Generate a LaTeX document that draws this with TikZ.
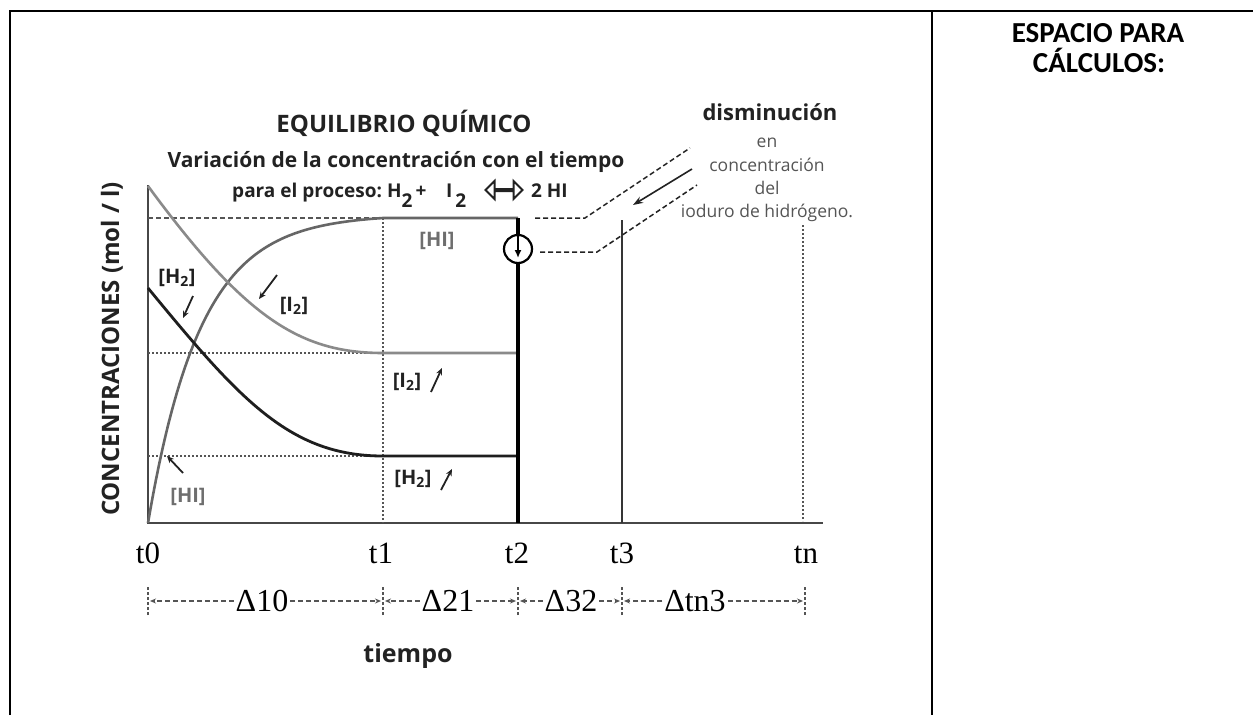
\documentclass[tikz,border=0pt]{standalone}
\usepackage{fontspec}
\setmainfont{Open Sans}
\newfontfamily\calibfont{Carlito}
\newfontfamily\timesfont{Liberation Serif}
\usetikzlibrary{arrows.meta,shapes.arrows}
\newcommand\myfs[1]{\fontsize{#1pt}{#1pt}\selectfont}
\definecolor{axgray}{HTML}{474747}
\definecolor{higray}{HTML}{666666}
\definecolor{itwogray}{HTML}{8A8A8A}
\definecolor{htwoblack}{HTML}{1E1E1E}
\definecolor{guidegray}{HTML}{555555}
\definecolor{txtdark}{HTML}{222222}
\definecolor{txtgray}{HTML}{555555}
\definecolor{lblgray}{HTML}{6E6E6E}
\tikzset{
  frame/.style={line width=2.2pt, draw=black},
  axisline/.style={line width=2.2pt, draw=axgray},
  guidedash/.style={line width=1.4pt, draw=guidegray, dash pattern=on 5pt off 3pt},
  guidedot/.style={line width=1.6pt, draw=guidegray, dash pattern=on 2pt off 2pt},
  hiline/.style={line width=2.6pt, draw=higray},
  itwoline/.style={line width=2.6pt, draw=itwogray},
  htwoline/.style={line width=2.8pt, draw=htwoblack},
  annot/.style={line width=1.5pt, draw=txtdark, dash pattern=on 5pt off 3pt},
  ptr/.style={line width=1.8pt, draw=txtdark, -{Stealth[length=7pt,width=6pt]}},
  title/.style={font=\bfseries\myfs{24}, text=txtdark},
  subtitle/.style={font=\bfseries\myfs{21}, text=txtdark},
  proc/.style={font=\bfseries\myfs{19}, text=txtdark},
  lbl/.style={font=\bfseries\myfs{20}},
  smalltxt/.style={font=\myfs{17.5}, text=txtgray},
  tlabel/.style={font=\timesfont\myfs{31}, text=black},
  dlabel/.style={font=\timesfont\myfs{32}, text=black, inner sep=2pt},
  tickmark/.style={line width=2pt, draw=guidegray, dash pattern=on 3pt off 2pt},
  dasharr/.style={line width=1.6pt, draw=guidegray, dash pattern=on 5pt off 3pt, -{Stealth[length=6pt,width=5pt]}},
  cellhead/.style={font=\calibfont\bfseries\myfs{29}, text=black}
}
\begin{document}
\begin{tikzpicture}[x=1pt,y=-1pt, every node/.style={inner sep=0pt, outer sep=0pt}]
\useasboundingbox (0,0) rectangle (1253,715);
\fill[white] (0,0) rectangle (1253,715);

% ---------- table frame
\coordinate (fTL) at (10,11);
\coordinate (fTR) at (1253,11);
\coordinate (fBL) at (10,715);
\coordinate (dT) at (932,11);
\coordinate (dB) at (932,715);
\draw[frame] (fBL) -- (fTL) -- (fTR);
\draw[frame] (dT) -- (dB);

% ---------- right cell
\node[cellhead, anchor=base] (esp) at (1098,42) {ESPACIO PARA};
\node[cellhead, anchor=base] (calc) at (1099,72) {CÁLCULOS:};

% ---------- axes
\coordinate (Ytop) at (148,185);
\coordinate (O) at (148,523);
\coordinate (Xend) at (823,523);
\draw[axisline] (Ytop) -- (O) -- (Xend);

% ---------- guides
\coordinate (hiL) at (148,218);
\coordinate (t1top) at (383,218);
\coordinate (t1bot) at (383,523);
\coordinate (itL) at (148,353);
\coordinate (itR) at (383,353);
\coordinate (htL) at (148,456);
\coordinate (htR) at (383,456);
\coordinate (tntop) at (803,225);
\coordinate (tnbot) at (803,521);
\draw[guidedash] (hiL) -- (t1top);
\draw[guidedot] (itL) -- (itR);
\draw[guidedot] (htL) -- (htR);
\draw[guidedot] (t1top) -- (t1bot);
\draw[guidedot] (tntop) -- (tnbot);

% ---------- curves
\coordinate (t2hi) at (518,218);
\coordinate (t2it) at (518,353);
\coordinate (t2ht) at (518,456);
\draw[hiline] plot[domain=148:383,samples=90] (\x,{218+305*(exp(-0.019*(\x-148))-0.01148)/(1-0.01148)}) -- (t2hi);
\draw[itwoline] (148,186) .. controls (245,318) and (300,353) .. (itR) -- (t2it);
\draw[htwoline] (148,288) .. controls (240,400) and (290,456) .. (htR) -- (t2ht);

% ---------- t2 and t3 lines
\coordinate (t2bot) at (518,523);
\coordinate (t3top) at (622,220);
\coordinate (t3bot) at (622,523);
\draw[line width=3.2pt, draw=black] (t2hi) -- (t2bot);
\draw[line width=2.6pt, draw=htwoblack!90!white] (t3top) -- (t3bot);

% ---------- circle with down arrow
\node[circle, draw=black, line width=2.2pt, minimum size=28pt, fill=white] (circ) at (518,249) {};
\draw[line width=2pt, -{Latex[length=8pt,width=7pt]}] (circ.north) -- (circ.center) -- ++(0,9);

% ---------- annotation lines
\coordinate (u1) at (535,218);
\coordinate (u2) at (585,218);
\coordinate (u3) at (690,148);
\coordinate (l1) at (540,252);
\coordinate (l2) at (597,252);
\coordinate (l3) at (697,185);
\coordinate (s1) at (692,169);
\coordinate (s2) at (633,205);
\draw[annot] (u1) -- (u2) -- (u3);
\draw[annot] (l1) -- (l2) -- (l3);
\draw[ptr, line width=1.6pt, -{Stealth[length=10pt,width=7pt]}] (s1) -- (s2);

% ---------- annotation text
\node[font=\bfseries\myfs{22}, text=txtdark, anchor=base] (dism) at (770,120) {disminución};
\node[smalltxt, anchor=base] (en) at (767,147) {en};
\node[smalltxt, anchor=base] (conc) at (767,171) {concentración};
\node[smalltxt, anchor=base] (del) at (767,194) {del};
\node[smalltxt, anchor=base] (iod) at (767,217) {ioduro de hidrógeno.};

% ---------- titles
\node[title, anchor=base] (tit) at (404,132) {EQUILIBRIO QUÍMICO};
\node[subtitle, anchor=base] (sub) at (396,167) {Variación de la concentración con el tiempo};
\node[proc, anchor=base east] (proc1) at (382,197) {para el proceso:};
\node[proc, anchor=base west] (proc2) at (387,197) {H\raisebox{-10pt}{2}\,+};
\node[proc, anchor=base west] (proc3) at (446,197) {I\,\raisebox{-10pt}{2}};
\node[double arrow, draw=txtdark, line width=2pt, fill=white, minimum width=8pt, minimum height=37pt, double arrow head extend=8pt, double arrow head indent=0pt] (eqarr) at (504,190) {};
\node[proc, anchor=base west] (proc4) at (531,197) {2 HI};

% ---------- y axis label
\node[font=\bfseries\myfs{24}, text=txtdark, rotate=90] (ylab) at (112,349) {CONCENTRACIONES (mol / l)};

% ---------- curve labels
\node[lbl, text=lblgray] (hitop) at (437,241) {[HI]};
\node[lbl, text=htwoblack] (h2a) at (177,278) {[H\textsubscript{2}]};
\node[lbl, text=txtdark] (i2a) at (294,306) {[I\textsubscript{2}]};
\node[lbl, text=txtdark] (i2b) at (407,382) {[I\textsubscript{2}]};
\node[lbl, text=txtdark] (h2b) at (413,479) {[H\textsubscript{2}]};
\node[lbl, text=lblgray] (hib) at (188,497) {[HI]};
\coordinate (ah1) at (193,296); \coordinate (ah2) at (183,318);
\coordinate (ai1) at (277,275); \coordinate (ai2) at (259,299);
\coordinate (bi1) at (431,392); \coordinate (bi2) at (442,368);
\coordinate (bh1) at (441,490); \coordinate (bh2) at (452,469);
\coordinate (bhi1) at (183,473); \coordinate (bhi2) at (167,456);
\draw[ptr] (ah1) -- (ah2);
\draw[ptr] (ai1) -- (ai2);
\draw[ptr] (bi1) -- (bi2);
\draw[ptr] (bh1) -- (bh2);
\draw[ptr] (bhi1) -- (bhi2);

% ---------- time labels
\node[tlabel, anchor=base] (lt0) at (148,563) {t0};
\node[tlabel, anchor=base] (lt1) at (381,563) {t1};
\node[tlabel, anchor=base] (lt2) at (517,563) {t2};
\node[tlabel, anchor=base] (lt3) at (622,563) {t3};
\node[tlabel, anchor=base] (ltn) at (806,563) {tn};

% ---------- interval row
\coordinate (k0) at (148,601);
\coordinate (k1) at (383,601);
\coordinate (k2) at (518,601);
\coordinate (k3) at (622,601);
\coordinate (kn) at (805,601);
\foreach \k in {k0,k1,k2,k3,kn}{
  \draw[tickmark] ([yshift=-14pt]\k) -- ([yshift=14pt]\k);
}
\node[dlabel] (d10) at (262,601) {Δ10};
\node[dlabel] (d21) at (448,601) {Δ21};
\node[dlabel] (d32) at (571,601) {Δ32};
\node[dlabel] (dtn) at (695,601) {Δtn3};
\draw[dasharr] (d10.west) -- ([xshift=2pt]k0);
\draw[dasharr] (d10.east) -- ([xshift=-2pt]k1);
\draw[dasharr] (d21.west) -- ([xshift=2pt]k1);
\draw[dasharr] (d21.east) -- ([xshift=-2pt]k2);
\draw[dasharr] (d32.west) -- ([xshift=2pt]k2);
\draw[dasharr] (d32.east) -- ([xshift=-2pt]k3);
\draw[dasharr] (dtn.west) -- ([xshift=2pt]k3);
\draw[dasharr] (dtn.east) -- ([xshift=-2pt]kn);

\node[font=\bfseries\myfs{25}, text=txtdark, anchor=base] (tiempo) at (408,662) {tiempo};
\end{tikzpicture}
\end{document}
